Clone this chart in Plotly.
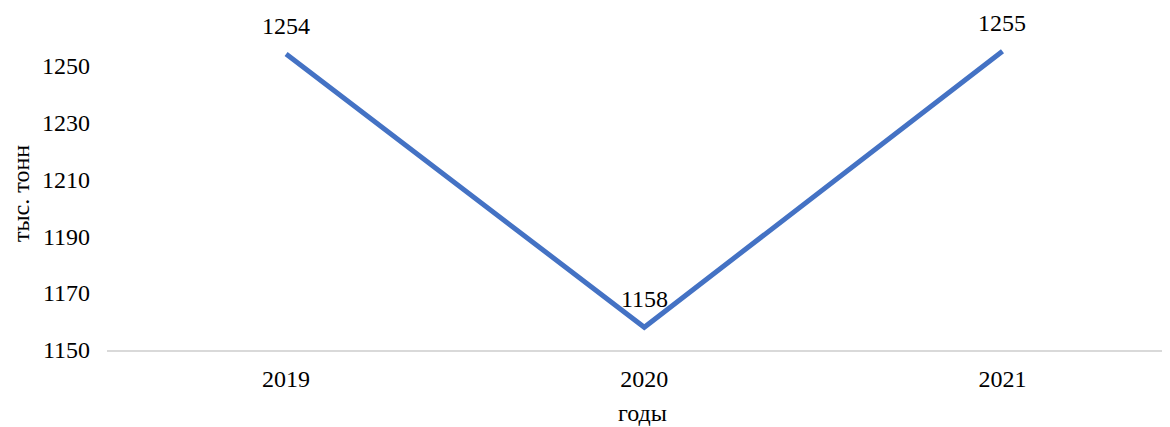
import plotly.graph_objects as go

years = ["2019", "2020", "2021"]
values = [1254, 1158, 1255]
y_ticks = [1150, 1170, 1190, 1210, 1230, 1250]
x_title = "годы"
y_title = "тыс. тонн"

FONT = "Times New Roman"

fig = go.Figure()
fig.add_trace(go.Scatter(
    x=years, y=values, mode="lines",
    line=dict(color="#4472C4", width=5),
    hoverinfo="skip", showlegend=False,
))

for i, yv in enumerate(values):
    fig.add_annotation(x=i, y=yv, xref="x", yref="y", text=str(yv), showarrow=False,
                       yshift=28, font=dict(family=FONT, size=24, color="#000000"))

fig.update_layout(
    width=1170, height=427,
    margin=dict(l=97, r=0, t=29, b=85),
    paper_bgcolor="white", plot_bgcolor="white",
    font=dict(family=FONT, size=24, color="#000000"),
    xaxis=dict(
        type="category", range=[-0.5, 2.49],
        showgrid=False, zeroline=False,
        showline=True, linecolor="#D9D9D9", linewidth=2,
        ticks="", ticklabelstandoff=6,
        title=dict(text=x_title, standoff=13, font=dict(size=24)),
    ),
    yaxis=dict(
        range=[1150, 1260], tickvals=y_ticks,
        showgrid=False, zeroline=False, showline=False,
        ticks="", ticklabelstandoff=16,
        title=dict(text=y_title, standoff=17, font=dict(size=24)),
    ),
)

fig.write_html("out.html")
